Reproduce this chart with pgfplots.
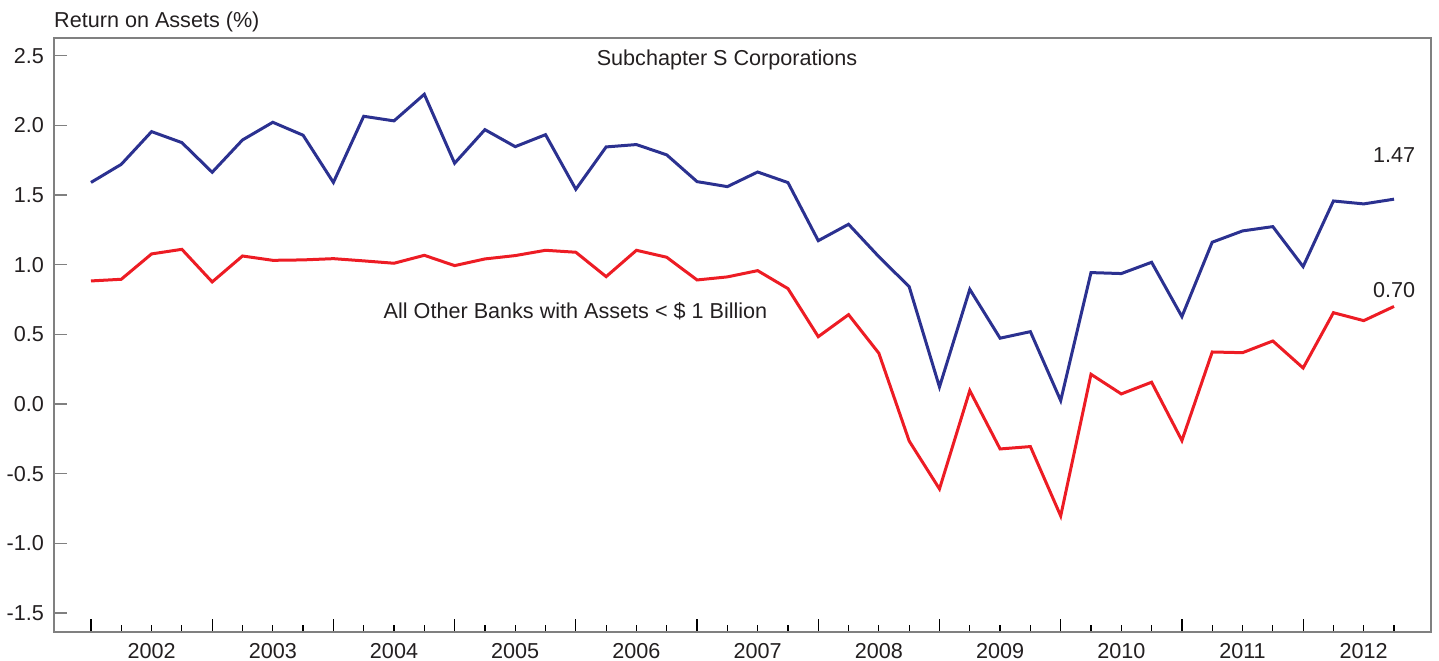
\documentclass[border=0pt]{standalone}
\usepackage{fontspec}
\setmainfont{Liberation Sans}
\usepackage{pgfplots}
\usepackage{pgfplotstable}
\pgfplotsset{compat=1.18}
\definecolor{navyline}{HTML}{2B3190}
\definecolor{redline}{HTML}{ED1C24}
\definecolor{txt}{HTML}{231F20}
\definecolor{axgray}{HTML}{808080}

\pgfplotstableread{
idx val
0 1.59
1 1.72
2 1.955
3 1.876
4 1.663
5 1.895
6 2.022
7 1.929
8 1.59
9 2.065
10 2.032
11 2.223
12 1.728
13 1.969
14 1.847
15 1.933
16 1.541
17 1.845
18 1.862
19 1.788
20 1.596
21 1.56
22 1.665
23 1.589
24 1.172
25 1.29
26 1.057
27 0.842
28 0.122
29 0.823
30 0.472
31 0.519
32 0.024
33 0.943
34 0.936
35 1.017
36 0.627
37 1.161
38 1.242
39 1.273
40 0.986
41 1.457
42 1.436
43 1.47
}\subS

\pgfplotstableread{
idx val
0 0.883
1 0.895
2 1.077
3 1.11
4 0.876
5 1.062
6 1.031
7 1.034
8 1.043
9 1.027
10 1.01
11 1.067
12 0.993
13 1.041
14 1.065
15 1.103
16 1.089
17 0.914
18 1.103
19 1.053
20 0.89
21 0.912
22 0.957
23 0.828
24 0.483
25 0.641
26 0.364
27 -0.266
28 -0.61
29 0.096
30 -0.323
31 -0.306
32 -0.804
33 0.213
34 0.072
35 0.156
36 -0.263
37 0.373
38 0.368
39 0.452
40 0.258
41 0.655
42 0.598
43 0.70
}\others

\begin{document}
\fontsize{21.6}{26}\selectfont
\begin{tikzpicture}
\begin{axis}[
  scale only axis, width=1377pt, height=594pt,
  xmin=-1.22, xmax=44.22, ymin=-1.637, ymax=2.627,
  clip=false,
  axis line style={axgray, line width=1.5pt},
  tick align=inside,
  xtick pos=bottom, ytick pos=left,
  xtick={0,...,43},
  xticklabels={,,2002,,,,2003,,,,2004,,,,2005,,,,2006,,,,2007,,,,2008,,,,2009,,,,2010,,,,2011,,,,2012,},
  minor xtick={0,4,...,40},
  x tick style={black, line width=1.2pt},
  x tick label style={anchor=base, yshift=-26.3pt, inner sep=0pt, text=txt},
  ytick={-1.5,-1,-0.5,0,0.5,1,1.5,2,2.5},
  yticklabels={-1.5,-1.0,-0.5,0.0,0.5,1.0,1.5,2.0,2.5},
  y tick style={axgray, line width=1.5pt},
  yticklabel style={anchor=east, inner sep=0pt, xshift=-10pt, text=txt},
  major x tick style={/pgfplots/major tick length=7pt},
  minor x tick style={/pgfplots/minor tick length=13pt},
  major y tick style={/pgfplots/major tick length=13pt},
  ]
  \addplot[navyline, line width=3pt] table[x=idx, y=val] {\subS};
  \addplot[redline, line width=3pt] table[x=idx, y=val] {\others};
  \node[anchor=center, inner sep=0pt, text=txt] at (axis cs:43,1.788) {1.47};
  \node[anchor=center, inner sep=0pt, text=txt] at (axis cs:43,0.815) {0.70};
  \node[anchor=base, inner sep=0pt, text=txt] at (axis cs:20.99,2.429) {Subchapter S Corporations};
  \node[anchor=base, inner sep=0pt, text=txt] at (axis cs:15.99,0.615) {All Other Banks with Assets < \$ 1 Billion};
  \node[anchor=base west, inner sep=0pt, text=txt] at ([yshift=10.7pt]rel axis cs:0,1) {Return on Assets (\%)};
\end{axis}
\path ([shift={(-54pt,-29pt)}]current axis.south west) rectangle ([shift={(8pt,38pt)}]current axis.north east);
\end{tikzpicture}
\end{document}
